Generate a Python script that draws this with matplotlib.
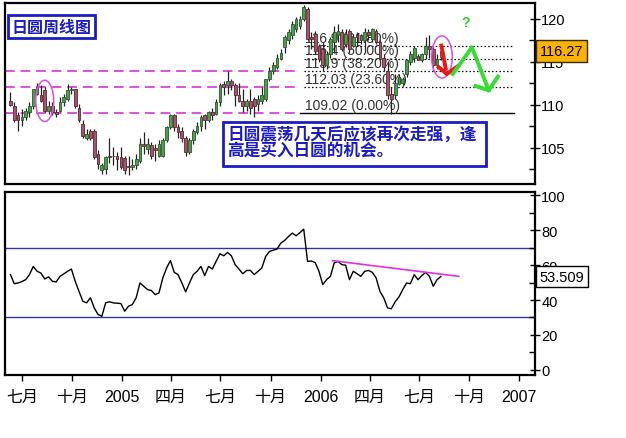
import numpy as np
import matplotlib
matplotlib.use('Agg')
import matplotlib.pyplot as plt
import matplotlib.dates as mdates
import matplotlib.transforms as mtransforms
from matplotlib.patches import Ellipse, Rectangle

plt.rcParams['font.family'] = ['Liberation Sans', 'Noto Sans CJK SC']

######### DATA #########
start_week = '2004-06-10'

opens = [110.5, 109.9, 108.8, 108.2, 108.6, 109.2, 109.9, 111.3, 111.1, 111.7,
         109.3, 109.9, 109.2, 109.3, 110.3, 110.7, 111.7, 111.8, 109.7, 107.8,
         106.1, 107.0, 107.0, 104.3, 102.4, 102.6, 104.1, 104.0, 104.1, 103.9,
         103.8, 102.9, 102.8, 103.0, 103.5, 105.4, 104.9, 105.3, 105.0, 104.1,
         104.1, 105.9, 107.4, 108.8, 107.4, 107.0, 106.2, 104.5, 105.9, 106.8,
         107.6, 108.8, 108.2, 109.2, 109.0, 110.3, 112.4, 112.3, 112.8, 112.3,
         111.1, 110.5, 109.9, 110.5, 110.7, 110.1, 110.5, 110.7, 113.0, 114.0,
         114.4, 115.4, 116.7, 117.5, 118.1, 118.8, 119.2, 120.0, 121.2, 117.9,
         118.3, 116.9, 116.5, 114.6, 115.9, 117.3, 118.1, 118.5, 117.1, 118.6,
         116.9, 118.1, 118.1, 117.5, 118.5, 117.7, 118.6, 117.3, 115.5, 114.0,
         111.3, 111.1, 112.4, 112.6, 113.6, 115.0, 115.5, 115.7, 115.2, 115.9,
         116.9, 116.5, 114.6, 115.6]
highs = [111.5, 110.3, 109.2, 109.5, 109.7, 110.3, 111.9, 112.6, 112.3, 112.1,
         110.5, 110.3, 109.5, 110.9, 111.3, 112.4, 112.1, 111.9, 110.1, 108.2,
         107.2, 107.2, 107.2, 104.7, 103.3, 104.1, 106.2, 105.1, 104.5, 105.1,
         104.1, 104.1, 103.7, 104.3, 106.2, 106.8, 106.1, 105.7, 105.5, 105.9,
         106.1, 107.6, 109.0, 109.0, 107.8, 107.4, 106.4, 106.1, 107.2, 108.0,
         108.8, 109.0, 109.3, 109.7, 110.7, 112.6, 112.8, 114.0, 113.0, 112.6,
         112.6, 111.9, 110.7, 111.9, 110.9, 111.1, 112.1, 113.0, 114.4, 115.0,
         115.9, 116.5, 118.1, 118.8, 119.8, 120.2, 120.4, 121.6, 121.4, 118.5,
         118.6, 117.1, 117.3, 116.3, 117.9, 119.2, 119.4, 118.8, 118.8, 118.8,
         118.3, 118.5, 118.3, 119.0, 118.8, 119.0, 118.8, 117.5, 115.9, 115.0,
         112.1, 113.6, 113.6, 113.2, 115.4, 116.3, 116.9, 115.9, 116.1, 117.9,
         118.1, 116.7, 115.9, 116.5]
lows = [109.9, 108.0, 107.0, 107.6, 108.2, 108.6, 109.5, 111.1, 110.3, 109.2,
        109.0, 108.8, 108.6, 109.2, 109.9, 110.5, 111.3, 109.7, 108.0, 106.2,
        105.9, 105.9, 103.7, 102.6, 102.0, 102.0, 103.3, 103.0, 102.4, 102.6,
        102.0, 101.8, 102.4, 102.6, 103.3, 104.3, 104.3, 103.7, 103.5, 103.9,
        103.9, 105.7, 107.2, 107.0, 106.2, 105.7, 104.1, 104.3, 105.5, 106.6,
        107.0, 107.2, 108.0, 108.2, 108.8, 109.9, 111.1, 111.3, 111.7, 109.9,
        110.3, 109.2, 109.3, 109.0, 108.6, 109.3, 110.1, 110.5, 112.8, 113.6,
        114.2, 115.2, 116.1, 117.1, 117.7, 118.5, 118.8, 119.8, 117.5, 116.5,
        115.9, 115.0, 114.0, 114.2, 115.5, 116.1, 117.3, 116.3, 116.7, 116.1,
        116.7, 116.9, 117.1, 116.1, 117.5, 117.3, 117.1, 115.2, 114.0, 110.7,
        109.0, 110.7, 112.3, 112.3, 113.2, 114.6, 115.0, 115.2, 115.0, 115.4,
        115.5, 114.0, 114.2, 115.2]
closes = [110.0, 108.2, 108.2, 108.6, 109.3, 109.9, 111.8, 112.1, 110.5, 109.3,
          109.9, 109.2, 109.0, 110.3, 110.9, 111.7, 111.9, 109.9, 108.2, 106.4,
          106.6, 106.1, 103.9, 103.1, 103.0, 103.9, 103.9, 104.1, 103.7, 102.8,
          102.4, 102.8, 103.0, 103.7, 105.5, 105.2, 105.5, 104.1, 104.8, 105.5,
          105.9, 107.4, 108.8, 107.4, 106.8, 106.1, 104.5, 105.9, 107.0, 107.6,
          108.6, 108.2, 109.2, 108.8, 110.3, 112.3, 112.1, 112.8, 112.3, 111.1,
          110.5, 109.9, 110.5, 109.7, 109.9, 110.7, 111.1, 113.0, 114.0, 114.6,
          115.5, 116.1, 117.9, 118.5, 119.4, 120.0, 120.0, 121.4, 117.7, 117.7,
          116.3, 115.4, 114.6, 115.9, 117.7, 118.5, 118.6, 116.5, 118.2, 116.5,
          117.9, 117.9, 117.5, 118.5, 118.1, 118.8, 117.3, 115.4, 114.4, 111.1,
          110.7, 112.6, 113.2, 113.0, 115.2, 115.9, 116.6, 115.2, 115.9, 116.9,
          116.5, 114.6, 115.4, 116.27]

rsi = [54.6, 49.4, 49.8, 50.6, 51.7, 54.6, 59.3, 56.5, 55.5, 52.1,
       53.3, 50.8, 50.4, 53.6, 55.0, 56.5, 57.8, 50.8, 45.0, 39.3,
       38.4, 41.3, 35.5, 31.7, 30.7, 38.4, 39.0, 38.4, 38.2, 38.0,
       33.6, 36.5, 37.4, 41.3, 49.8, 47.9, 46.0, 45.5, 43.1, 44.1,
       52.7, 58.4, 62.7, 55.9, 54.6, 49.8, 44.7, 49.8, 54.6, 56.5,
       59.3, 54.0, 59.3, 57.8, 62.2, 66.6, 65.4, 67.3, 65.4, 60.3,
       57.8, 55.1, 57.0, 57.0, 54.6, 56.5, 58.4, 65.0, 67.9, 68.6,
       69.3, 72.7, 74.2, 76.5, 78.4, 76.9, 78.7, 80.7, 62.2, 62.4,
       61.5, 56.5, 48.9, 51.7, 53.6, 61.3, 62.2, 60.3, 60.0, 51.7,
       56.5, 55.1, 53.6, 56.5, 57.0, 55.9, 52.7, 45.0, 41.3, 35.5,
       35.0, 39.0, 41.8, 46.0, 49.8, 49.4, 54.6, 51.7, 54.0, 55.9,
       53.6, 47.9, 51.7, 53.5]

fib_levels = [109.02, 112.03, 113.9, 115.4, 116.9]
fib_labels = ['109.02 (0.00%)', '112.03 (23.60%)', '113.9 (38.20%)',
              '115.4 (50.00%)', '116.9 (61.80%)']
last_price = 116.27
last_rsi = '53.509'

tick_dates = ['2004-07-01', '2004-10-01', '2005-01-01', '2005-04-01',
              '2005-07-01', '2005-10-01', '2006-01-01', '2006-04-01',
              '2006-07-01', '2006-10-01', '2007-01-01']
tick_labels = ['七月', '十月', '2005', '四月', '七月', '十月', '2006', '四月',
               '七月', '十月', '2007']


def d(s):
    return mdates.date2num(np.datetime64(s))


weeks = mdates.date2num(np.datetime64(start_week) + np.arange(len(closes)) * np.timedelta64(7, 'D'))
opens = np.array(opens)
closes = np.array(closes)
up = closes >= opens

fig = plt.figure(figsize=(6.26, 4.39), dpi=100)
W, H = 626.0, 439.0
ax1 = fig.add_axes([5 / W, 1 - 185 / H, 530 / W, 181 / H])
ax2 = fig.add_axes([5 / W, 1 - 376 / H, 530 / W, 183 / H])

xmin, xmax = d('2004-05-31'), d('2007-01-30')

######### PRICE PANEL #########
blue = '#1C1CC4'
magenta = '#DD50DD'

# horizontal dashed lines on the left (fib levels carried back)
for lv in fib_levels[:3]:
    ax1.plot([xmin, d('2005-11-25')], [lv, lv], color=magenta, lw=1.4,
             dashes=(5, 3), zorder=1)
# fib lines
ax1.plot([d('2005-11-25'), d('2006-12-22')], [fib_levels[0]] * 2, color='black', lw=1, zorder=1)
for lv in fib_levels[1:]:
    ax1.plot([d('2005-12-02'), d('2006-12-22')], [lv, lv], color='black', lw=0.9,
             linestyle=(0, (1.2, 1.8)), zorder=1)
for lv, lab in zip(fib_levels, fib_labels):
    ax1.text(d('2005-12-03'), lv + 0.12, lab, fontsize=10, color='#333333',
             va='bottom', ha='left', zorder=1)

# candles
ax1.vlines(weeks, lows, highs, color='#222222', lw=0.9, zorder=2)
body = np.maximum(np.abs(closes - opens), 0.07)
ax1.bar(weeks, body, width=5, bottom=np.minimum(opens, closes),
        color=np.where(up, '#4E9E4E', '#A3566A'),
        edgecolor=np.where(up, '#2C5A2C', '#5A2834'), linewidth=0.6, zorder=3)

ax1.add_patch(Ellipse((d('2004-08-12'), 110.47), 33, 4.8, fill=False,
                      ec=magenta, lw=1.1, zorder=4))
ax1.add_patch(Ellipse((d('2006-08-12'), 115.58), 38, 4.9, fill=False,
                      ec=magenta, lw=1.1, zorder=4))

# arrows
red = '#EE1515'
ax1.plot([d('2006-08-11'), d('2006-08-19')], [116.9, 114.2], color=red, lw=2.8, zorder=5)
ax1.plot([d('2006-08-06'), d('2006-08-21'), d('2006-09-10')], [114.4, 113.6, 114.5],
         color=red, lw=2.8, zorder=5)
green = '#33DD33'
ax1.plot([d('2006-09-01'), d('2006-10-06'), d('2006-11-06')], [113.6, 116.7, 111.7],
         color=green, lw=2.8, zorder=5)
ax1.plot([d('2006-10-13'), d('2006-11-06'), d('2006-11-23')], [112.2, 111.7, 113.3],
         color=green, lw=2.8, zorder=5)
ax1.text(d('2006-09-25'), 119.65, '?', color='#33CC33', fontsize=10,
         fontweight='bold', ha='center', va='center', zorder=5)

# text boxes
ax1.text(0.0877, 0.870, '日圆周线图', transform=ax1.transAxes, fontsize=11.5,
         fontweight='bold', color=blue, ha='center', va='center',
         family=['Noto Sans CJK SC'], zorder=6,
         bbox=dict(boxstyle='square,pad=0.22', fc='white', ec=blue, lw=2))
ax1.add_patch(Rectangle((0.4113, 0.0994), 0.4962, 0.2431, transform=ax1.transAxes,
                        fc='white', ec=blue, lw=2, zorder=6))
ax1.text(0.419, 0.276, '日圆震荡几天后应该再次走强，逢', transform=ax1.transAxes,
         fontsize=12, fontweight='bold', color=blue, ha='left', va='center',
         family=['Noto Sans CJK SC'], zorder=7)
ax1.text(0.419, 0.182, '高是买入日圆的机会。', transform=ax1.transAxes,
         fontsize=12, fontweight='bold', color=blue, ha='left', va='center',
         family=['Noto Sans CJK SC'], zorder=7)

ax1.set_xlim(xmin, xmax)
ax1.set_ylim(100.8, 121.86)
ax1.yaxis.tick_right()
ax1.set_yticks([105, 110, 115, 120])
ax1.set_yticks([102.5, 107.5, 112.5, 117.5], minor=True)
ax1.set_xticks([])
ax1.tick_params(axis='y', which='major', direction='inout', length=7, width=1,
                labelsize=10.5, pad=1)
ax1.tick_params(axis='y', which='minor', direction='in', length=4, width=1)

tr1 = mtransforms.blended_transform_factory(ax1.transAxes, ax1.transData)
ax1.text(1.009, last_price, f'{last_price:.2f}', transform=tr1, fontsize=10.5,
         ha='left', va='center', zorder=8, clip_on=False,
         bbox=dict(boxstyle='square,pad=0.25', fc='#F9B200', ec='#3A2A00', lw=1))

######### RSI PANEL #########
ax2.axhline(70, color='#34349A', lw=1, zorder=1)
ax2.axhline(30, color='#34349A', lw=1, zorder=1)
ax2.plot(weeks, rsi, color='black', lw=1, zorder=2)
ax2.plot([d('2006-01-23'), d('2006-09-12')], [62.6, 53.6], color='#DD33DD', lw=1.2, zorder=3)

ax2.set_xlim(xmin, xmax)
ax2.set_ylim(-3, 102)
ax2.yaxis.tick_right()
ax2.set_yticks([0, 20, 40, 60, 80, 100])
ax2.set_yticks([10, 30, 50, 70, 90], minor=True)
ax2.tick_params(axis='y', which='major', direction='inout', length=7, width=1,
                labelsize=10.5, pad=1)
ax2.tick_params(axis='y', which='minor', direction='in', length=4, width=1)
ax2.set_xticks([d(t) for t in tick_dates])
ax2.set_xticklabels(tick_labels)
ax2.tick_params(axis='x', direction='out', length=4, width=1, labelsize=11.5, pad=6)

tr2 = mtransforms.blended_transform_factory(ax2.transAxes, ax2.transData)
ax2.text(1.009, rsi[-1], last_rsi, transform=tr2, fontsize=10.5,
         ha='left', va='center', zorder=8, clip_on=False,
         bbox=dict(boxstyle='square,pad=0.25', fc='white', ec='black', lw=1))

for ax in (ax1, ax2):
    for sp in ax.spines.values():
        sp.set_linewidth(1.6)
        sp.set_color('black')

fig.savefig('out.png', dpi=100)
